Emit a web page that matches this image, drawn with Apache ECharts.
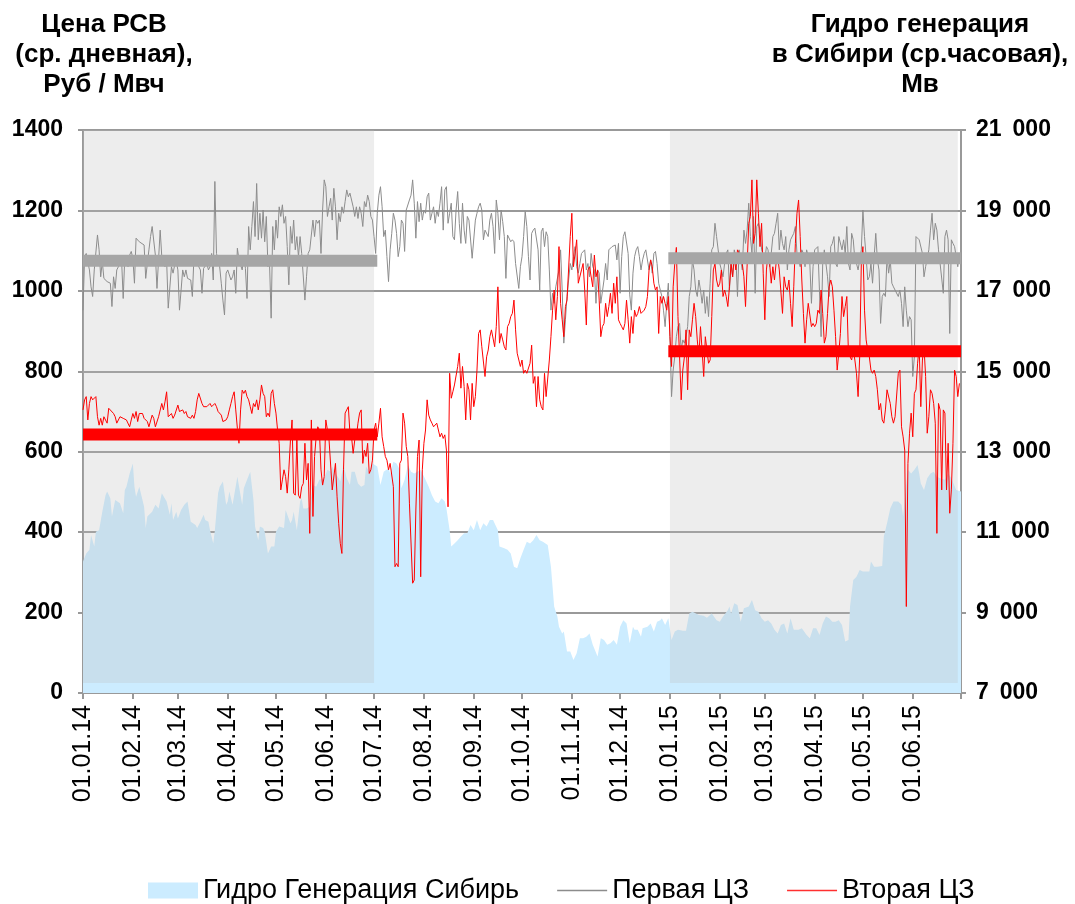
<!DOCTYPE html>
<html><head><meta charset="utf-8">
<script src="https://cdn.jsdelivr.net/npm/echarts@6/dist/echarts.min.js"></script>
<style>html,body{margin:0;padding:0;background:#fff}#c{width:1075px;height:904px}</style>
</head><body><div id="c"></div>
<script>
// ---- categories: one per day, 01.01.14 .. 01.07.15 ----
function pad(n){return (n<10?'0':'')+n;}
const startDate = Date.UTC(2014,0,1);
const dayCount = 547;
const dateLabels = [];
for (let i=0;i<dayCount;i++){const d=new Date(startDate+i*86400000);dateLabels.push(pad(d.getUTCDate())+'.'+pad(d.getUTCMonth()+1)+'.'+String(d.getUTCFullYear()).slice(2));}

// ---- series values: [day index since 01.01.14, value] ----
const hydroPts = [[0,10270],[2,10470],[4,10560],[5,10930],[7,10640],[8,11010],[10,11050],[12,11510],[14,11920],[15,12010],[17,11840],[18,11390],[20,11800],[21,11840],[23,11720],[25,11470],[26,12050],[27,12130],[29,12460],[31,12710],[32,12130],[33,11880],[35,12130],[36,12130],[38,11630],[39,11100],[40,11390],[43,11510],[45,11680],[47,11590],[49,11970],[50,11970],[52,11760],[54,11430],[55,11720],[56,11300],[58,11510],[59,11340],[61,11550],[63,11680],[65,11760],[67,11260],[68,11300],[70,11180],[71,11100],[73,11260],[75,11430],[76,11300],[78,11260],[79,11050],[81,10720],[82,11050],[84,11970],[85,12130],[87,12260],[89,11680],[90,11760],[91,12010],[93,11680],[94,11680],[96,12380],[97,12380],[99,11680],[100,12090],[102,12300],[104,12500],[106,11800],[107,11140],[109,10800],[110,11140],[112,11100],[113,11010],[115,10470],[117,10640],[119,10640],[120,11010],[122,11140],[123,11100],[125,11100],[126,11550],[127,11550],[129,11220],[130,11300],[131,11510],[133,11050],[135,11760],[136,11840],[137,11590],[139,11590],[141,11630],[143,12170],[145,12130],[147,12300],[148,12260],[150,12340],[152,12550],[154,12500],[155,12630],[157,12460],[159,12340],[160,12260],[162,12670],[164,12340],[166,12170],[167,12500],[169,12500],[171,12210],[173,12130],[175,12170],[176,12630],[178,12500],[180,12710],[181,12750],[183,12630],[185,12170],[187,12500],[190,12590],[191,12460],[193,12750],[195,12710],[197,12550],[198,12090],[200,12300],[202,12670],[204,12500],[206,12460],[208,12500],[210,12550],[213,12300],[215,12130],[217,11920],[219,11760],[221,11720],[223,11840],[225,11760],[226,11590],[228,11050],[229,10640],[231,10720],[233,10800],[235,10890],[237,10970],[239,10970],[241,11180],[243,11050],[245,11300],[247,11050],[249,11220],[251,11140],[253,11300],[255,11300],[258,11050],[259,10640],[262,10600],[264,10560],[266,10470],[268,10140],[270,10100],[272,10350],[274,10560],[276,10760],[278,10720],[280,10800],[282,10930],[284,10800],[286,10760],[289,10680],[291,10140],[293,9150],[295,8900],[296,8650],[298,8480],[299,8530],[301,8030],[303,8030],[305,7820],[307,7990],[309,8360],[311,8360],[313,8400],[315,8480],[317,8200],[320,7910],[322,8360],[324,8320],[326,8200],[328,8240],[330,8320],[332,8200],[334,8650],[336,8810],[338,8730],[340,8240],[342,8650],[343,8570],[345,8570],[347,8400],[348,8610],[351,8650],[353,8730],[355,8530],[357,8770],[359,8810],[360,8860],[362,8690],[364,8860],[366,8320],[368,8530],[370,8570],[373,8550],[375,8550],[377,8980],[379,9020],[383,8940],[386,8920],[388,8870],[391,8980],[394,8810],[396,8770],[398,8900],[401,9060],[402,9150],[403,8980],[405,9230],[407,9190],[409,8770],[411,9110],[414,9150],[416,9310],[418,9060],[420,9020],[422,8860],[424,8770],[426,8810],[428,8730],[430,8570],[432,8480],[434,8690],[436,8730],[438,8480],[440,8860],[442,8570],[445,8570],[447,8610],[450,8440],[452,8360],[454,8610],[456,8610],[458,8440],[460,8730],[462,8900],[464,8860],[466,8770],[468,8770],[470,8810],[472,8690],[474,8280],[476,8320],[477,9150],[479,9810],[481,9890],[483,10060],[485,10020],[487,10020],[489,10020],[490,10270],[492,10140],[494,10140],[497,10160],[498,10890],[500,11220],[502,11590],[504,11760],[507,11760],[509,11680],[510,11390],[512,12210],[513,12550],[515,12460],[517,12550],[519,12670],[520,12460],[521,12210],[523,12050],[525,12340],[527,12460],[529,12500],[531,12380],[533,12340],[536,12300],[538,12460],[540,12340],[541,12380],[543,12050],[544,12010],[546,12010]];

const zone1Pts = [[0,952],[1,1085],[2,1093],[4,1052],[5,1010],[6,986],[7,1052],[9,1139],[10,1102],[11,1035],[12,1073],[13,1031],[14,1027],[15,1023],[17,1019],[18,961],[19,1035],[20,1006],[21,1052],[22,1060],[24,1077],[25,981],[26,1085],[28,1060],[29,1089],[30,1098],[31,1081],[32,1019],[33,1131],[35,1122],[36,1122],[38,1114],[39,1031],[40,1068],[41,1102],[42,1135],[43,1160],[45,1089],[46,1006],[48,1151],[49,1085],[50,1068],[51,1060],[52,1077],[53,957],[55,1060],[56,1044],[57,1064],[58,1073],[59,1052],[60,952],[62,1052],[63,1035],[64,1052],[65,1031],[67,1027],[68,986],[69,1085],[70,1073],[72,1060],[73,1052],[74,994],[75,1056],[77,1068],[78,1052],[79,1060],[80,1093],[81,1027],[82,1272],[83,1093],[85,1060],[86,1019],[87,977],[88,940],[89,1044],[90,1052],[92,1027],[93,1035],[94,1052],[95,994],[96,1106],[97,1077],[99,1052],[100,1089],[101,1056],[102,981],[103,1160],[104,1102],[105,1160],[106,1222],[107,1135],[108,1267],[109,1127],[110,1193],[111,1131],[112,1201],[113,1122],[114,1185],[115,1060],[116,1068],[117,932],[118,1160],[119,1102],[120,1176],[121,1131],[122,1209],[123,1185],[124,1214],[125,1168],[126,1185],[127,1110],[128,1015],[129,1160],[130,1118],[131,1176],[132,1102],[133,1135],[134,1085],[135,1135],[136,1093],[137,1093],[138,977],[139,1035],[140,1093],[141,1102],[142,1098],[143,1176],[144,1135],[145,1176],[146,1168],[147,1176],[148,1093],[149,1201],[150,1276],[151,1259],[152,1185],[153,1209],[154,1230],[155,1176],[156,1255],[157,1209],[158,1127],[159,1193],[160,1172],[161,1209],[162,1193],[163,1222],[164,1251],[165,1234],[166,1243],[168,1209],[169,1185],[170,1209],[171,1180],[172,1209],[173,1193],[174,1160],[175,1222],[176,1209],[177,1238],[178,1222],[179,1185],[180,1176],[181,1135],[182,1093],[183,1193],[184,1238],[185,1259],[186,1209],[187,1135],[188,1151],[189,1085],[190,1023],[191,1102],[192,1143],[193,1193],[194,1176],[195,1143],[196,1085],[197,1110],[198,1176],[199,1168],[200,1098],[201,1201],[203,1226],[204,1238],[205,1276],[206,1218],[207,1131],[208,1222],[209,1172],[210,1218],[211,1176],[212,1201],[213,1193],[214,1234],[215,1243],[216,1176],[217,1193],[218,1209],[219,1168],[220,1201],[221,1185],[222,1218],[223,1259],[224,1151],[225,1251],[226,1259],[227,1168],[228,1193],[229,1218],[230,1135],[231,1127],[232,1201],[233,1247],[234,1168],[235,1118],[236,1218],[237,1151],[238,1118],[239,1185],[240,1176],[241,1180],[242,1081],[244,1176],[245,1193],[246,1209],[247,1218],[248,1201],[249,1127],[250,1151],[251,1147],[252,1135],[253,1176],[254,1193],[255,1160],[256,1093],[257,1226],[258,1193],[259,1127],[260,1201],[261,1172],[262,1135],[263,1031],[264,1139],[265,1135],[266,1122],[267,1127],[268,1122],[269,1068],[271,1006],[272,1060],[273,1085],[274,1135],[275,1197],[276,1160],[277,1085],[278,1027],[279,1143],[280,1151],[281,1156],[282,1160],[283,1102],[284,1002],[285,1147],[286,1156],[287,1110],[288,1147],[289,1135],[290,1052],[291,952],[292,994],[293,969],[294,1010],[296,1052],[297,1102],[298,1002],[299,870],[300,928],[301,986],[302,1027],[303,1068],[304,1052],[305,1085],[306,1110],[307,1060],[308,1044],[309,1068],[310,1093],[311,1093],[312,1102],[313,1052],[314,1068],[315,1035],[316,1093],[317,1060],[318,1052],[319,969],[320,1052],[321,1044],[322,969],[324,1027],[325,1068],[326,1027],[327,1102],[328,1102],[329,1110],[330,1106],[331,1114],[332,1077],[333,1118],[334,994],[335,1085],[336,1135],[337,1147],[338,1151],[339,1093],[340,990],[341,952],[342,1044],[343,1085],[344,1102],[345,1110],[346,1085],[347,1052],[348,1077],[349,1093],[350,1102],[352,1052],[353,1077],[354,1044],[355,1093],[356,1098],[357,1068],[358,1019],[359,1002],[360,986],[361,952],[362,911],[363,969],[364,1019],[365,886],[366,737],[367,803],[368,836],[369,886],[370,911],[371,919],[372,853],[373,878],[374,870],[375,886],[376,911],[377,986],[378,1010],[379,1077],[380,1052],[381,1002],[382,986],[383,1027],[384,1002],[385,969],[386,1002],[387,944],[388,986],[389,936],[390,1019],[391,1102],[392,1110],[393,1168],[394,1135],[396,1068],[397,1052],[398,1035],[399,1068],[400,1093],[401,1102],[402,1002],[403,1068],[404,1035],[405,1102],[406,1085],[407,986],[408,1102],[409,1102],[410,1052],[411,1151],[412,1118],[413,1151],[414,1218],[415,1135],[416,1093],[417,1185],[418,994],[419,1160],[420,1168],[421,1151],[422,1102],[424,1077],[425,1110],[426,1102],[427,1060],[428,1093],[429,1135],[430,1143],[431,1168],[432,1193],[433,1102],[434,1151],[435,1118],[436,1102],[437,1135],[438,1052],[439,1102],[440,1127],[441,1127],[442,1143],[443,1160],[444,1093],[445,1077],[446,1060],[447,1102],[448,1093],[449,1060],[450,1102],[451,1102],[452,1068],[453,969],[454,1060],[455,1102],[456,1102],[457,1110],[458,1110],[459,886],[460,1068],[461,1102],[463,1035],[464,986],[465,1110],[466,1118],[467,1135],[468,1068],[469,1060],[470,1135],[471,1135],[472,1102],[473,1127],[474,1093],[475,1160],[476,1068],[477,1052],[478,1143],[479,1127],[480,1077],[481,1068],[482,1052],[483,1052],[484,1102],[485,1201],[486,1135],[487,1085],[488,1027],[489,1035],[490,1068],[491,1019],[492,1085],[493,1143],[494,1077],[495,1052],[496,919],[497,986],[498,994],[499,986],[500,1085],[501,1044],[502,1077],[503,1019],[504,1010],[505,1010],[507,986],[508,1002],[509,969],[510,911],[511,1010],[512,952],[513,911],[514,936],[515,928],[516,787],[517,836],[518,1135],[519,1135],[520,1127],[521,1127],[522,1093],[523,1035],[524,1060],[525,1060],[526,1102],[527,1151],[528,1193],[529,1127],[530,1168],[531,1151],[532,1102],[533,1068],[535,994],[536,1135],[537,1151],[538,1127],[539,894],[540,1127],[541,1118],[542,1110],[543,1110],[544,1060],[545,1093]];

const zone2Pts = [[0,704],[1,729],[2,737],[3,679],[4,720],[5,737],[6,729],[7,733],[8,737],[9,687],[10,666],[11,683],[12,666],[13,687],[14,691],[15,671],[16,708],[17,704],[19,695],[20,687],[21,671],[22,675],[23,687],[24,691],[25,683],[26,683],[27,679],[28,683],[29,662],[30,679],[31,695],[32,683],[33,700],[34,675],[35,695],[36,691],[37,695],[38,683],[39,683],[40,675],[41,662],[42,666],[43,691],[44,683],[45,662],[47,687],[48,691],[49,720],[50,704],[51,724],[52,749],[53,687],[54,691],[55,695],[56,683],[57,691],[58,687],[59,716],[60,700],[61,704],[62,704],[63,695],[64,700],[65,687],[66,691],[67,683],[68,691],[69,683],[70,700],[71,729],[72,745],[74,720],[75,712],[76,708],[77,712],[78,716],[79,720],[80,712],[81,708],[82,720],[83,712],[84,700],[85,704],[86,691],[87,675],[88,671],[89,679],[90,687],[91,704],[92,720],[93,737],[94,749],[95,704],[96,658],[97,621],[98,704],[99,753],[100,745],[101,753],[102,737],[103,729],[104,712],[105,695],[106,720],[107,712],[108,729],[109,704],[110,729],[111,766],[112,745],[113,737],[114,687],[115,696],[116,687],[117,745],[118,754],[119,720],[120,696],[121,654],[122,621],[123,505],[124,530],[125,555],[126,538],[127,497],[128,555],[129,629],[130,679],[131,497],[132,492],[133,629],[134,492],[135,484],[136,513],[137,521],[138,621],[139,530],[140,571],[141,397],[142,679],[143,439],[144,588],[145,637],[146,662],[147,654],[148,555],[149,517],[150,538],[151,679],[152,679],[153,629],[154,629],[155,505],[157,571],[158,488],[159,422],[160,372],[161,347],[162,555],[163,696],[164,704],[165,712],[166,646],[167,637],[168,596],[169,629],[170,637],[171,671],[172,696],[173,704],[174,571],[175,604],[176,588],[177,621],[178,546],[179,555],[180,579],[181,654],[182,671],[183,637],[184,671],[185,708],[186,637],[187,613],[188,588],[189,579],[190,555],[191,571],[192,571],[193,513],[194,314],[195,322],[196,314],[197,571],[198,579],[199,696],[200,671],[201,613],[202,588],[203,472],[205,273],[206,281],[207,455],[208,588],[209,629],[210,289],[211,555],[212,621],[213,654],[214,729],[215,691],[216,679],[217,671],[218,662],[219,662],[220,671],[221,675],[222,637],[223,646],[224,633],[225,642],[226,604],[227,463],[228,795],[229,733],[230,749],[231,766],[232,770],[233,812],[234,845],[235,758],[236,812],[237,762],[238,679],[239,770],[240,754],[241,679],[242,770],[243,712],[244,737],[245,803],[246,894],[247,903],[248,861],[249,861],[250,787],[251,836],[252,853],[253,886],[254,903],[255,903],[256,861],[257,911],[258,1010],[259,870],[260,894],[261,878],[262,861],[263,853],[264,911],[265,919],[266,936],[267,944],[268,977],[269,903],[270,845],[271,845],[272,812],[273,828],[274,795],[275,803],[276,795],[277,791],[278,820],[279,865],[280,770],[281,787],[282,712],[283,787],[284,729],[285,712],[286,704],[287,795],[288,737],[290,828],[291,886],[292,952],[293,1002],[294,928],[295,986],[296,1110],[297,969],[298,928],[299,886],[300,961],[301,977],[302,977],[303,1135],[304,1193],[305,1060],[307,1127],[308,1019],[309,1019],[310,1052],[311,1068],[312,1002],[313,915],[314,1052],[315,1060],[316,1060],[317,1010],[318,1089],[319,1035],[320,1052],[321,977],[322,886],[323,911],[324,919],[325,969],[326,936],[327,961],[328,994],[329,944],[330,1019],[331,969],[332,1035],[333,928],[334,919],[335,911],[336,903],[337,919],[338,977],[339,928],[340,870],[341,936],[342,894],[343,952],[344,936],[345,944],[346,961],[347,944],[348,944],[349,952],[350,961],[351,986],[352,1052],[353,1077],[354,1060],[355,1019],[356,1002],[357,1010],[358,894],[359,986],[360,969],[361,986],[362,969],[363,952],[364,986],[365,886],[366,812],[367,1010],[368,1068],[369,1108],[370,936],[371,836],[372,729],[373,803],[374,836],[375,903],[376,754],[377,903],[378,886],[379,928],[380,969],[381,936],[382,878],[383,836],[384,911],[385,853],[386,787],[387,886],[388,853],[389,820],[390,828],[391,936],[392,1052],[393,1068],[394,1027],[395,1010],[396,1019],[397,1052],[398,986],[399,1002],[400,986],[401,961],[402,1010],[403,1068],[404,1035],[405,1085],[406,1052],[407,1102],[408,1093],[409,1085],[410,1068],[411,1035],[412,961],[414,1168],[415,1185],[416,1276],[417,1118],[418,1143],[419,1276],[420,1193],[421,1110],[422,1168],[423,1044],[424,928],[425,1052],[426,1093],[427,1068],[428,1019],[429,1060],[430,1027],[431,1068],[432,1085],[433,1052],[435,944],[436,1035],[437,1010],[438,1002],[439,1027],[440,969],[441,911],[442,1010],[443,1118],[444,1193],[445,1226],[446,1135],[447,1027],[448,944],[449,870],[450,928],[451,969],[452,969],[453,911],[454,919],[455,911],[456,919],[457,952],[458,944],[459,1002],[460,944],[461,870],[462,886],[463,944],[464,1010],[465,1027],[466,1010],[467,952],[468,886],[469,803],[470,845],[471,894],[472,986],[473,936],[474,961],[475,986],[476,845],[477,836],[478,828],[479,853],[480,828],[481,795],[482,737],[483,836],[484,1068],[485,1110],[486,952],[487,878],[488,853],[489,836],[490,803],[491,795],[492,803],[493,787],[494,754],[495,704],[496,720],[497,679],[498,671],[499,704],[500,754],[501,754],[502,720],[503,687],[504,671],[505,687],[507,795],[508,803],[509,662],[510,637],[511,604],[512,215],[513,571],[514,646],[515,696],[516,637],[517,745],[518,754],[519,820],[520,861],[521,712],[522,828],[523,861],[524,787],[525,646],[526,687],[527,754],[528,745],[529,720],[530,671],[531,397],[532,720],[533,704],[534,505],[535,704],[536,696],[537,505],[538,621],[539,447],[540,505],[541,621],[542,803],[543,787],[544,737],[545,770]];

// period averages (thick bars)
const avgZone1_2014 = [[0,1075],[183,1075]];
const avgZone2_2014 = [[0,643],[183,643]];
const avgZone1_2015 = [[364,1081],[546,1081]];
const avgZone2_2015 = [[364,850],[546,850]];
// shaded periods
const shadedPeriods = [['01.01.14','01.07.14'],['01.01.15','29.06.15']];

const leftTicksMax = 1400, rightMin = 7000, rightMax = 21000;
const FONT = 'Liberation Sans, Arial, sans-serif';
const LINE_ICON = 'path://M0,0H60V2H0Z';

const chart = echarts.init(document.getElementById('c'), null, {renderer:'canvas'});
function isMonthStart(idx, val){ return val.slice(0,3)==='01.'; }
chart.setOption({
  animation:false,
  textStyle:{fontFamily:FONT},
  title:[
    {text:'Цена РСВ\n(ср. дневная),\nРуб / Мвч', left:99, top:5, textAlign:'center',
     textStyle:{fontFamily:FONT,fontSize:26,fontWeight:'bold',color:'#000',lineHeight:30}},
    {text:'Гидро генерация\nв Сибири (ср.часовая),\nМв', left:915, top:5, textAlign:'center',
     textStyle:{fontFamily:FONT,fontSize:26,fontWeight:'bold',color:'#000',lineHeight:30}}
  ],
  grid:{left:83, right:114, top:130, bottom:211, containLabel:false},
  legend:{
    left:143, top:872, itemWidth:50, itemHeight:16, itemGap:38, symbolKeepAspect:true,
    textStyle:{fontFamily:FONT,fontSize:27,color:'#000'},
    data:[{name:'Гидро Генерация Сибирь', icon:'rect'},
          {name:'Первая ЦЗ', icon:LINE_ICON},
          {name:'Вторая ЦЗ', icon:LINE_ICON}]
  },
  xAxis:{
    type:'category', data:dateLabels, boundaryGap:false,
    axisLine:{show:true, lineStyle:{color:'#999', width:2}},
    axisTick:{show:true, interval:isMonthStart, length:6, lineStyle:{color:'#999', width:2}},
    axisLabel:{interval:function(idx,val){return isMonthStart(idx,val) && idx<dayCount-1;}, rotate:90, margin:12,
      fontFamily:FONT, fontSize:25, color:'#000'},
    splitLine:{show:false}
  },
  yAxis:[
    {type:'value', min:0, max:leftTicksMax, interval:200,
     axisLine:{show:true, lineStyle:{color:'#999', width:2}},
     axisTick:{show:true, length:5, lineStyle:{color:'#999', width:2}},
     axisLabel:{margin:20, fontFamily:FONT, fontSize:23, fontWeight:'bold', color:'#000',
       formatter:function(v){return String(v);}},
     splitLine:{show:true, lineStyle:{color:'#999', width:2}}},
    {type:'value', min:rightMin, max:rightMax, interval:2000, position:'right',
     axisLine:{show:true, lineStyle:{color:'#999', width:2}},
     axisTick:{show:true, length:5, lineStyle:{color:'#999', width:2}},
     axisLabel:{margin:15, fontFamily:FONT, fontSize:23, fontWeight:'bold', color:'#000',
       formatter:function(v){return String(v).replace(/\B(?=(\d{3})+(?!\d))/g,' \u2009');}},
     splitLine:{show:false}}
  ],
  series:[
    {name:'Гидро Генерация Сибирь', type:'line', yAxisIndex:1, data:hydroPts, symbol:'none', z:1,
     color:'#ccecff', lineStyle:{width:0, color:'#ccecff'}, itemStyle:{color:'#ccecff'},
     areaStyle:{color:'#ccecff', opacity:1, origin:'start'}},
    {name:'shade', type:'line', data:[], z:2, silent:true,
     markArea:{silent:true, z:3, itemStyle:{color:'rgba(190,190,190,0.27)'},
       data:shadedPeriods.map(function(p){return [{xAxis:p[0], yAxis:25},{xAxis:p[1], yAxis:leftTicksMax}];})}},
    {name:'Первая ЦЗ', type:'line', data:zone1Pts, symbol:'none', z:4, color:'#8c8c8c',
     lineStyle:{color:'#8c8c8c', width:1}, itemStyle:{color:'#8c8c8c'}},
    {name:'Вторая ЦЗ', type:'line', data:zone2Pts, symbol:'none', z:5, color:'#ff0000',
     lineStyle:{color:'#ff0000', width:1}, itemStyle:{color:'#ff3030'}},
    {name:'avg1_14', type:'line', data:avgZone1_2014, symbol:'none', z:6, lineStyle:{color:'#a6a6a6', width:12}},
    {name:'avg2_14', type:'line', data:avgZone2_2014, symbol:'none', z:6, lineStyle:{color:'#ff0000', width:12}},
    {name:'avg1_15', type:'line', data:avgZone1_2015, symbol:'none', z:6, lineStyle:{color:'#a6a6a6', width:12}},
    {name:'avg2_15', type:'line', data:avgZone2_2015, symbol:'none', z:6, lineStyle:{color:'#ff0000', width:12}}
  ]
});
</script></body></html>
